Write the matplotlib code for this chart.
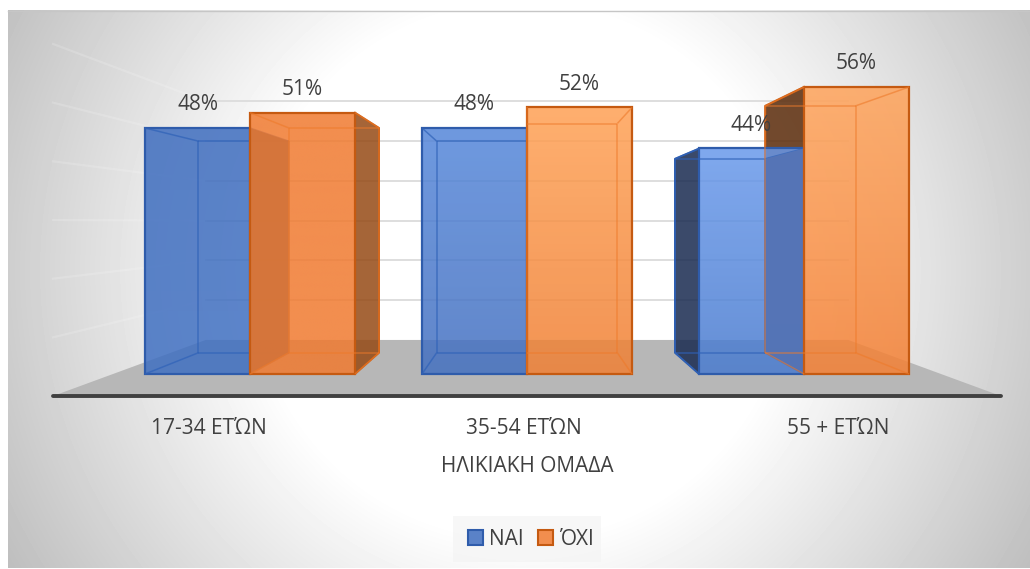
import numpy as np
import matplotlib
matplotlib.use("Agg")
import matplotlib.pyplot as plt
from matplotlib.colors import to_rgb
from matplotlib.patches import Polygon, Patch, Rectangle
from matplotlib.collections import LineCollection

plt.rcParams['font.family'] = ['Open Sans', 'DejaVu Sans']

categories = ['17-34 ΕΤΏΝ', '35-54 ΕΤΏΝ', '55 + ΕΤΏΝ']
series_names = ['ΝΑΙ', 'ΌΧΙ']
nai_values = [48, 48, 44]
oxi_values = [51, 52, 56]
grid_values = [10, 20, 30, 40, 50, 60]
axis_title = 'ΗΛΙΚΙΑΚΗ ΟΜΑΔΑ'

W, H = 1030, 569
fig = plt.figure(figsize=(W / 100, H / 100), dpi=100, facecolor='white')

# background: circular grey gradient, in figure pixels
bg = fig.add_axes([8 / W, 1 / H, 1 - 8 / W, 1 - 11 / H], zorder=0)
bg.axis('off')
yy, xx = np.mgrid[10:568, 8:1030]
rr = np.hypot(xx - 520, yy - 270)
shade = 1.0 - 0.00078 * np.clip(rr - 265, 0, None)
bg.imshow(shade, cmap='gray', vmin=0, vmax=1, aspect='auto', origin='upper', interpolation='bilinear')
fig.add_artist(plt.Line2D([8 / W, 1], [1 - 10.5 / H, 1 - 10.5 / H], color='#c6c6c6', lw=1.0, zorder=0.5))

ax = fig.add_axes([0, 0, 1, 1], zorder=1)
ax.patch.set_alpha(0)
ax.axis('off')
PX = 277.0
PV = 5.125
XLIM = (-250 / PX, (W - 250) / PX)
YLIM = ((374 - H) / PV, 374 / PV)

VX, VV = 1.0, 29.66
S_BACK, S_FLOOR_F, S_WALL = 0.86, 1.145, 0.776
BAR_W = 105 / PX
FLOOR_X0, FLOOR_X1 = -137 / PX, 2 + 137 / PX
ALPHA = 0.85


def proj(x, v, s):
    return (VX + s * (x - VX), VV + s * (v - VV))


def quad(pts, color, alpha, z):
    ax.add_patch(Polygon([proj(*p) for p in pts], closed=True, zorder=z, linewidth=0,
                         facecolor=matplotlib.colors.to_rgba(color, alpha), edgecolor='none'))


def side_panel(x, value):
    return [(x, 0, 1.0), (x, value, 1.0), (x, value, S_BACK), (x, 0, S_BACK)]


# grid: back wall and faint left wall
for g in grid_values:
    ax.plot(*zip(proj(FLOOR_X0, g, S_WALL), proj(FLOOR_X1, g, S_WALL)), color='#dedede', lw=1.4, zorder=1)
    ax.plot(*zip(proj(FLOOR_X0, g, S_WALL), proj(FLOOR_X0, g, S_FLOOR_F)), color='white', alpha=0.16, lw=1.6,
            zorder=1)

# floor
quad([(FLOOR_X0, 0, S_FLOOR_F), (FLOOR_X1, 0, S_FLOOR_F), (FLOOR_X1, 0, S_WALL), (FLOOR_X0, 0, S_WALL)],
     '#b7b7b7', 1.0, 2)
ax.plot(*zip(proj(FLOOR_X0, 0, S_FLOOR_F), proj(FLOOR_X1, 0, S_FLOOR_F)), color='#404040', lw=2.8,
        solid_capstyle='round', zorder=3)

BLUE_E, ORANGE_E = '#2f5cab', '#c55a11'
BLUE_IN, ORANGE_IN = '#2f62b8', '#ee7a2a'
blue_top = ['#3d6cbe', '#5587da', '#6999eb']
blue_bot = ['#4070c2', '#4470c0', '#497bcf']
orange_top = ['#f07a2f', '#ffa155', '#ffa35a']
orange_bot = ['#f07a2f', '#f08034', '#f48034']


def bar_face(left, value, top_c, bot_c, edge, z):
    t = np.linspace(0, 1, 64)[:, None, None]
    rgb = np.array(to_rgb(top_c))[None, None, :] * (1 - t) + np.array(to_rgb(bot_c))[None, None, :] * t
    rgba = np.dstack([rgb, np.full((64, 1), ALPHA)])
    ax.imshow(rgba, extent=(left, left + BAR_W, 0, value), origin='upper', aspect='auto',
              interpolation='bilinear', zorder=z)
    ax.bar(left, value, width=BAR_W, align='edge', facecolor='none', edgecolor=edge, linewidth=1.6,
           zorder=z + 0.5)


def inner_lines(left, value, color, z, alpha=0.7):
    x0, x1 = left, left + BAR_W
    sb = S_BACK
    corners = [(x0, 0), (x1, 0), (x1, value), (x0, value)]
    segs = []
    for k, (cx, cv) in enumerate(corners):
        nx, nv = corners[(k + 1) % 4]
        segs.append([proj(cx, cv, sb), proj(nx, nv, sb)])
        segs.append([proj(cx, cv, 1.0), proj(cx, cv, sb)])
    ax.add_collection(LineCollection(segs, colors=color, linewidths=1.1, alpha=alpha, zorder=z))


for i in range(3):
    nai_left, oxi_left = i - BAR_W, float(i)
    nai, oxi = nai_values[i], oxi_values[i]
    if i == 2:
        # the last group: orange wall behind the blue bar, blue in front of it
        quad(side_panel(oxi_left, oxi), '#5a2a09', ALPHA, 20)
        quad(side_panel(nai_left, nai), '#182a50', ALPHA, 21)
        ax.plot(*zip(proj(oxi_left, oxi, 1.0), proj(oxi_left, oxi, S_BACK), proj(oxi_left, 0, S_BACK)),
                color=ORANGE_E, lw=1.5, zorder=20.5)
        ax.plot(*zip(proj(nai_left, nai, 1.0), proj(nai_left, nai, S_BACK), proj(nai_left, 0, S_BACK),
                     proj(nai_left, 0, 1.0)), color=BLUE_E, lw=1.3, zorder=21.5)
        bar_face(nai_left, nai, blue_top[i], blue_bot[i], BLUE_E, 22)
        inner_lines(nai_left, nai, BLUE_IN, 23)
        quad(side_panel(oxi_left, nai), '#5574b6', 0.97, 24)
        bar_face(oxi_left, oxi, orange_top[i], orange_bot[i], ORANGE_E, 25)
        inner_lines(oxi_left, oxi, ORANGE_IN, 26, alpha=0.6)
    else:
        z = 10 + 5 * i
        bar_face(nai_left, nai, blue_top[i], blue_bot[i], BLUE_E, z)
        inner_lines(nai_left, nai, BLUE_IN, z + 1)
        if i == 0:
            right = oxi_left + BAR_W
            quad(side_panel(right, oxi), '#954a15', ALPHA, z + 1.5)
            ax.plot(*zip(proj(right, oxi, 1.0), proj(right, oxi, S_BACK), proj(right, 0, S_BACK),
                         proj(right, 0, 1.0)), color=ORANGE_E, lw=1.3, zorder=z + 1.6)
        bar_face(oxi_left, oxi, orange_top[i], orange_bot[i], ORANGE_E, z + 2)
        inner_lines(oxi_left, oxi, ORANGE_IN, z + 3, alpha=0.6)
        if i == 0:
            quad(side_panel(oxi_left, nai), '#d4743a', 0.95, z + 2.2)

ax.set_xlim(*XLIM)
ax.set_ylim(*YLIM)

# value labels
for i in range(3):
    for off, vals in ((-BAR_W / 2, nai_values), (BAR_W / 2, oxi_values)):
        ax.annotate(f'{vals[i]}%', (i + off, vals[i]), xytext=(0, 23.0 * 0.72), textcoords='offset points',
                    ha='center', va='center', fontsize=15, color='#404040', zorder=60)

# category labels and title
cat_x = [209, 524, 838]
for c, px in zip(categories, cat_x):
    ax.text((px - 250) / PX, (374 - 428) / PV, c, ha='center', va='center', fontsize=15, color='#404040')
ax.text(1.0, (374 - 466) / PV, axis_title, ha='center', va='center', fontsize=15, color='#404040')

# legend on its faint panel
fig.add_artist(Rectangle((453 / W, 1 - 562 / H), 148 / W, 46 / H, transform=fig.transFigure,
                         facecolor='#f4f4f4', edgecolor='none', alpha=0.7, zorder=0.5))
leg = ax.legend(handles=[Patch(facecolor='#5a82c8', edgecolor=BLUE_E, linewidth=1.5, label=series_names[0]),
                         Patch(facecolor='#f28e4e', edgecolor=ORANGE_E, linewidth=1.5, label=series_names[1])],
                loc='center', bbox_to_anchor=(531 / W, 1 - 539.5 / H), bbox_transform=fig.transFigure,
                ncol=2, frameon=False,
                fontsize=15, labelcolor='#404040', handlelength=0.7, handleheight=0.7, handletextpad=0.3,
                columnspacing=0.7, borderpad=0, borderaxespad=0)
leg.set_zorder(70)

fig.savefig('out.png', dpi=100)
